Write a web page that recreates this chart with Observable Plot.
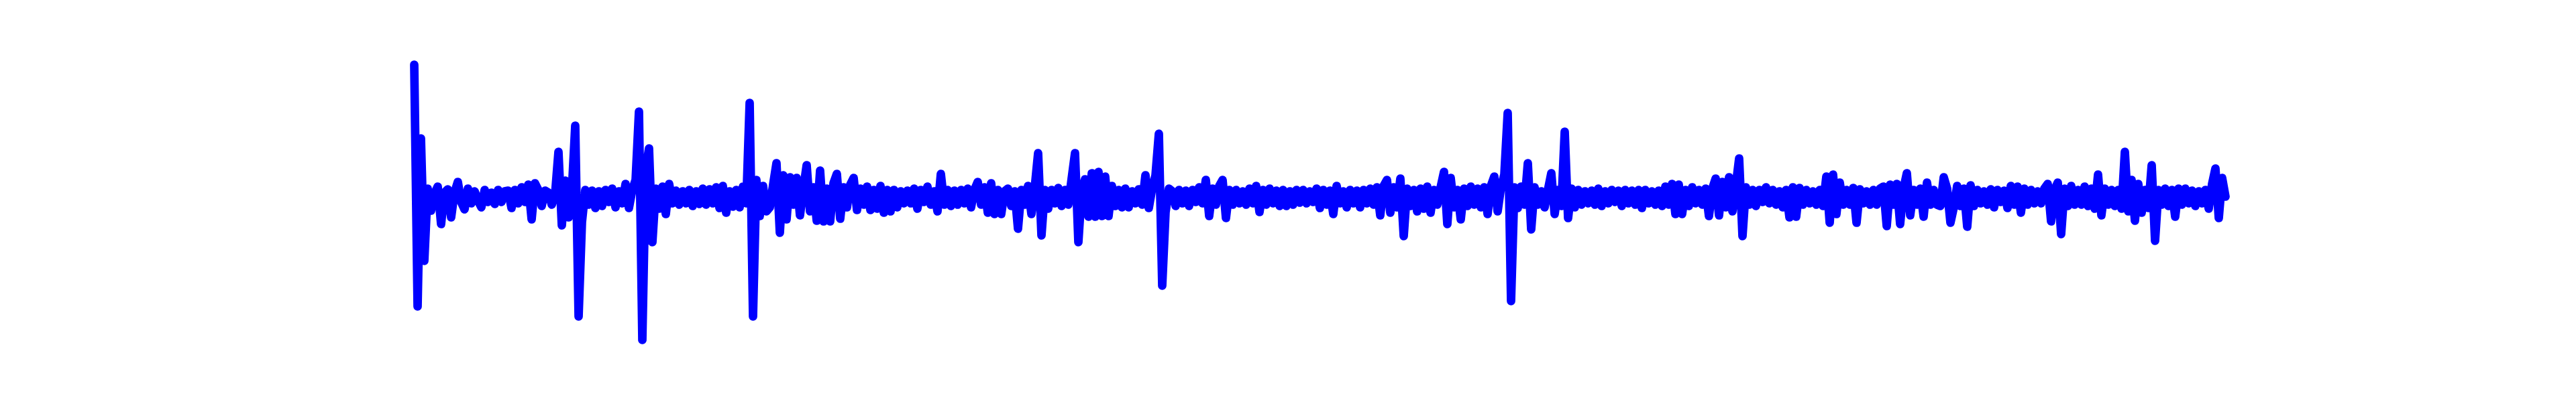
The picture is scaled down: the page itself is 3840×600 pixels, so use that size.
<!DOCTYPE html>
<html>
<head>
<meta charset="utf-8">
<script src="https://cdn.jsdelivr.net/npm/d3@7"></script>
<script src="https://cdn.jsdelivr.net/npm/@observablehq/plot@0.6"></script>
<style>
  html, body { margin: 0; padding: 0; background: #ffffff; }
  #chart { width: 3840px; height: 600px; }
</style>
</head>
<body>
<div id="chart"></div>
<script>
// Series values, in consecutive periods
const seriesA = [
  9.85, -8.2, 4.35, -4.8, 0.6, -1.05, 0.2, 0.75, -2.05, 0.3,
  0.55, -1.55, 0.3, 1.1, -0.4, -0.95, 0.6, -0.5, 0.4, -0.3,
  -0.8, 0.5, -0.4, 0.3, -0.55, 0.5, -0.4, 0.4, 0.45, -0.85,
  0.5, -0.5, 0.7, -0.4, 0.9, -1.7, 1.0, 0.5, -0.7, 0.45,
  0.3, -0.6, 0.2, 3.35, -2.15, 1.2, -1.55, 0.5, 5.3, -8.95
];
const seriesB = [
  -1.9, 0.5, -0.6, 0.45, -0.85, 0.4, -0.7, 0.5, -0.4, 0.6,
  -0.8, 0.4, -0.5, 0.95, -0.85, 0.5, 1.25, 6.35, -10.7, 1.95,
  3.6, -3.4, 0.6, -0.9, 0.75, -1.3, 0.95, -0.5, 0.45, -0.6,
  0.4, -0.5, 0.5, -0.7, 0.4, -0.55, 0.6, -0.6, 0.55, -0.5,
  0.7, -0.85, 0.8, -1.2, 0.4, -0.75, 0.5, -0.8, 0.75, -0.5
];
const seriesC = [
  7.0, -8.95, 1.25, -1.45, 0.8, -1.1, -0.8, 0.9, 2.5, -2.7,
  1.6, -1.7, 1.45, -0.6, 1.4, -1.4, 0.6, 2.35, -1.1, 0.7,
  -1.8, 1.95, -1.85, 0.6, -1.85, 1.0, 1.7, -1.65, 0.7, -0.8,
  0.9, 1.4, -1.0, 0.6, -0.6, 0.75, -1.0, 0.5, -0.9, 0.8,
  -1.2, 0.5, -1.1, 0.5, -0.8, 0.4, -0.5, 0.45, -0.5, 0.6
];
const seriesD = [
  -0.9, 0.5, -0.4, 0.75, -0.6, 0.4, -1.1, 1.7, -0.6, 0.5,
  -0.7, 0.45, -0.6, 0.5, -0.5, 0.6, -0.8, 0.5, 1.1, -0.6,
  0.7, -1.2, 1.0, -1.3, 0.5, -1.3, 0.4, 0.6, -0.7, 0.4,
  -2.4, 0.5, -0.6, 0.8, -1.3, 0.7, 3.25, -2.9, 0.5, -0.9,
  0.5, -0.5, 0.65, -0.7, 0.5, -0.6, 1.35, 3.25, -3.4, 0.5
];
const seriesE = [
  1.3, -1.5, 1.75, -1.5, 1.85, -1.45, 1.5, -1.45, 0.8, -0.7,
  0.5, -0.8, 0.6, -0.8, 0.4, -0.5, 0.55, -0.6, 1.6, -0.85,
  0.6, 1.6, 4.7, -6.65, -1.15, 0.6, 0.4, -0.7, 0.5, -0.5,
  0.45, -0.7, 0.5, -0.4, 0.7, -0.5, 1.25, -1.45, 0.6, -0.6,
  0.8, 1.25, -1.6, 0.5, -0.6, 0.5, -0.5, 0.4, -0.6, 0.6
];
const seriesF = [
  -0.5, 0.8, -1.15, 0.5, -0.6, 0.6, -0.5, 0.45, -0.7, 0.5,
  -0.7, 0.4, -0.6, 0.5, -0.45, 0.5, -0.5, 0.4, -0.4, 0.6,
  -0.85, 0.5, -0.6, 0.45, -1.3, 0.8, -0.5, 0.4, -0.8, 0.5,
  -0.5, 0.45, -0.8, 0.5, -0.5, 0.6, -0.6, 0.7, -1.4, 0.8,
  1.25, -1.2, 0.7, -0.8, 1.35, -2.95, 0.6, -0.7, 0.5, -1.1
];
const seriesG = [
  0.6, -0.9, 0.75, -1.2, 0.5, -0.6, 0.7, 1.85, -2.05, 1.4,
  -0.8, 0.5, -1.7, 0.6, -0.7, 0.75, -0.6, 0.6, -0.8, 0.7,
  -1.3, 0.8, 1.5, -1.1, 0.7, 1.65, 6.25, -7.8, 0.7, -0.85,
  0.75, -0.6, 2.5, -2.45, 0.7, -0.6, 0.4, -0.8, 0.5, 1.75,
  -1.3, 0.5, -0.7, 4.85, -1.6, 0.6, -0.8, 0.5, -0.6, 0.4
];
const seriesH = [
  -0.5, 0.45, -0.6, 0.6, -0.7, 0.4, -0.5, 0.5, -0.4, 0.45,
  -0.7, 0.5, -0.5, 0.45, -0.6, 0.5, -0.85, 0.5, -0.5, 0.4,
  -0.6, 0.45, -0.7, 0.75, -0.6, 0.95, -1.3, 0.9, -1.3, 0.5,
  -0.7, 0.7, -0.5, 0.5, -0.6, 0.6, -1.45, 0.6, 1.35, -1.4,
  1.1, -0.8, 1.45, -1.1, 0.8, 2.85, -2.95, 0.7, -0.6, 0.5
];
const seriesI = [
  -0.7, 0.5, -0.4, 0.7, -0.5, 0.5, -0.6, 0.4, -0.8, 0.5,
  -1.55, 0.7, -1.5, 0.65, -0.6, 0.5, -0.5, 0.4, -0.6, 0.5,
  -0.7, 1.5, -1.95, 1.65, -1.3, 1.05, -0.6, 0.5, -0.6, 0.65,
  -1.95, 0.55, -0.5, 0.4, -0.6, 0.5, -0.6, 0.6, 0.75, -2.2,
  0.9, -0.6, 0.95, -2.05, 0.6, 1.75, -1.4, 0.5, -0.6, 0.6
];
const seriesJ = [
  -1.5, 1.05, -0.6, 0.5, -0.6, -0.7, 1.45, 0.6, -1.95, -0.8,
  0.8, -0.7, 0.6, -2.25, 0.85, -0.7, 0.5, -0.5, 0.4, -0.6,
  0.55, -0.8, 0.5, -0.4, 0.45, -0.85, 0.8, -0.6, 0.75, -1.2,
  0.6, -0.6, 0.5, -0.5, 0.4, -0.5, 0.6, 0.95, -1.85, 0.5,
  1.05, -2.8, 0.6, -0.7, 0.8, -0.6, 0.5, -0.6, 0.75, -0.7
];
const seriesK = [
  0.6, -0.9, 1.65, -1.4, 0.6, -0.6, 0.5, -0.7, 0.5, -0.9,
  3.35, -1.1, 1.25, -1.8, 0.95, -1.2, 0.5, -0.85, 2.35, -3.3,
  0.5, -0.6, 0.6, -0.7, 0.5, -1.5, 0.6, -0.6, 0.6, -0.5,
  0.45, -0.7, 0.4, -0.5, 0.5, -0.9, 0.95, 2.1, -1.6, 1.4,
  0.0
];

const values = [].concat(seriesA, seriesB, seriesC, seriesD, seriesE,
  seriesF, seriesG, seriesH, seriesI, seriesJ, seriesK);
const data = values.map((v, i) => ({ t: i, v }));

const chart = Plot.plot({
  width: 3840,
  height: 600,
  marginLeft: 617,
  marginRight: 523,
  marginTop: 53,
  marginBottom: 67,
  style: { background: "#ffffff" },
  x: { domain: [0, values.length - 1], axis: null },
  y: { domain: [-12, 12], axis: null },
  marks: [
    Plot.line(data, {
      x: "t",
      y: "v",
      stroke: "#0000ff",
      strokeWidth: 12.7,
      strokeLinecap: "round",
      strokeLinejoin: "round"
    })
  ]
});
document.getElementById("chart").appendChild(chart);
</script>
</body>
</html>
